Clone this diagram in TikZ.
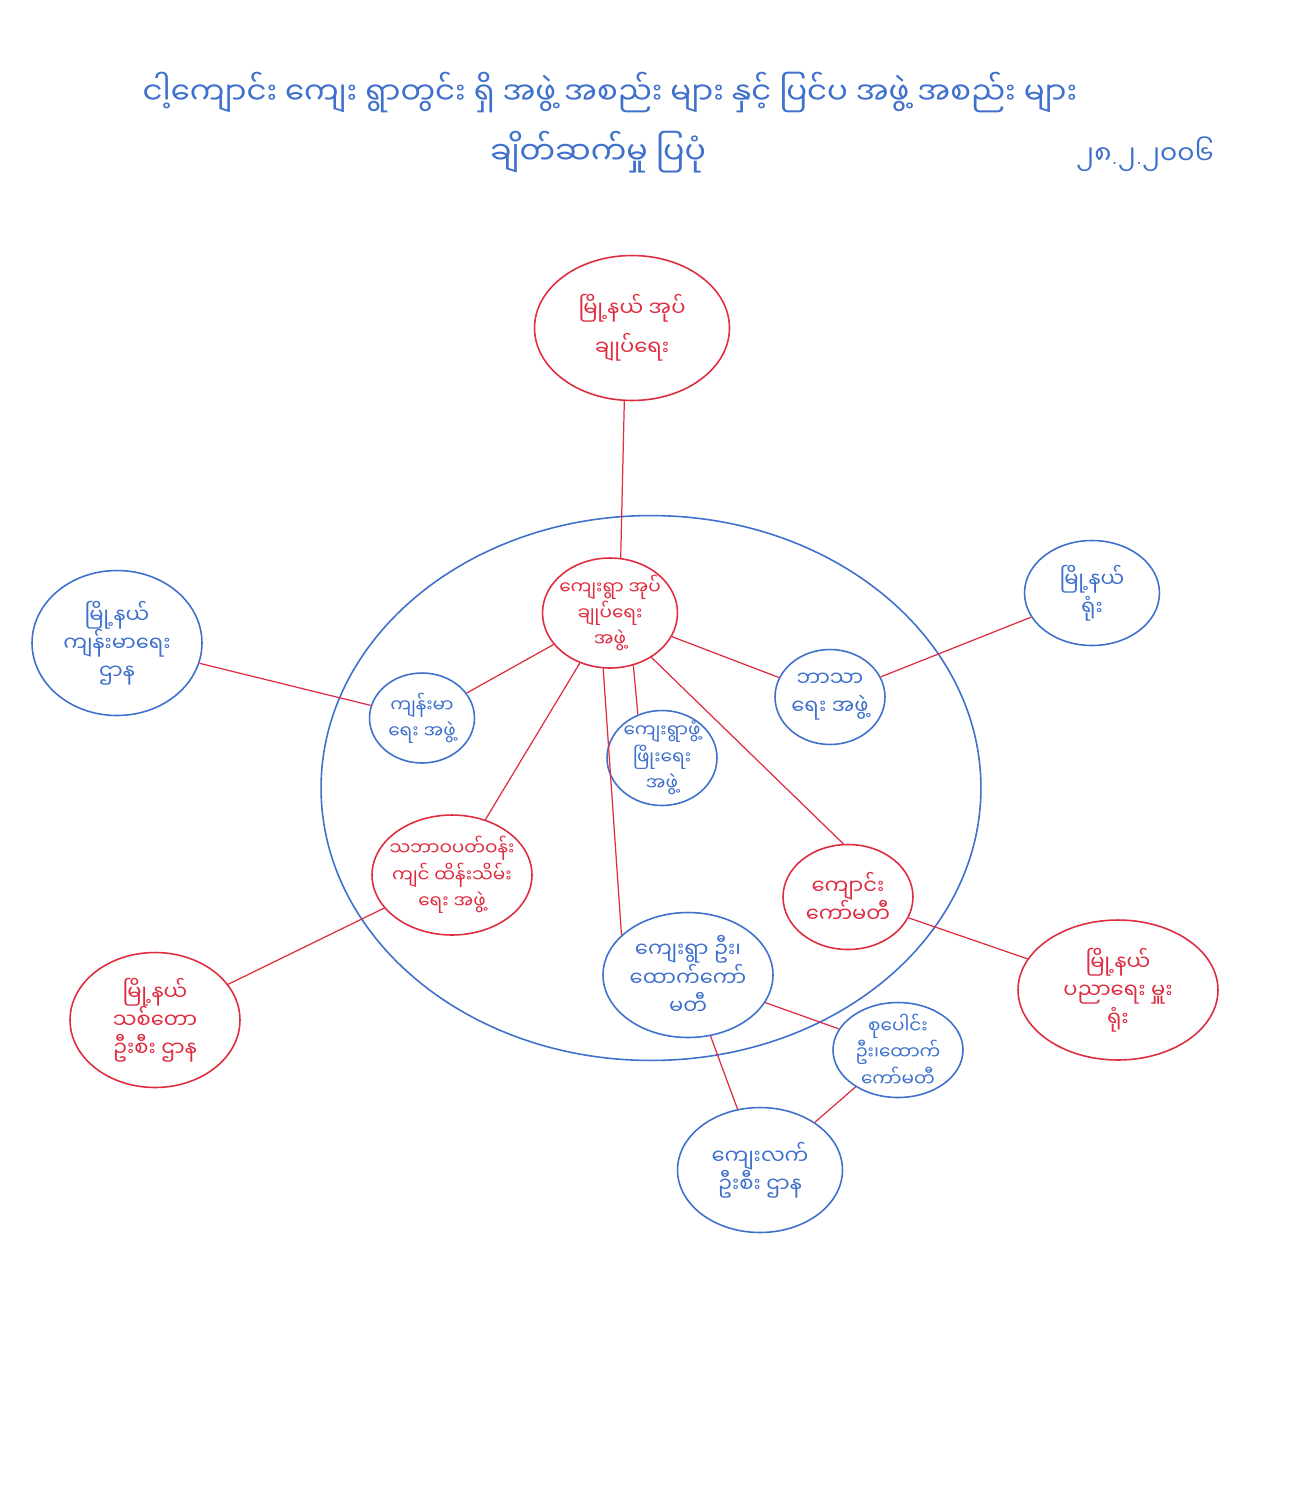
\documentclass[tikz,border=0pt]{standalone}
\usepackage{fontspec}
\newfontfamily\mm[Script=Myanmar]{Noto Sans Myanmar UI}
\usetikzlibrary{shapes.geometric}
\definecolor{pen}{RGB}{62,112,204}
\definecolor{ink}{RGB}{222,44,64}

\begin{document}
\begin{tikzpicture}[x=0.02cm, y=-0.02cm,
        bub/.style 2 args={ellipse, draw, line width=0.9pt,
                           inner xsep=-12pt, inner ysep=-6pt,
                           minimum width=#1cm, minimum height=#2cm,
                           align=center, font=\mm\fontsize{12}{16}\selectfont},
        sm/.style={font=\mm\fontsize{10.5}{15}\selectfont},
        blu/.style={draw=pen, text=pen},
        rd/.style={draw=ink, text=ink},
        head/.style={text=pen, inner sep=0pt, text height=13pt, text depth=5pt},
        link/.style={draw=ink, line width=0.7pt}]
      \useasboundingbox (0,0) rectangle (1301,1495);
      \node[head, font=\mm\fontsize{17.5}{19}\selectfont] (ttl) at (610, 97)
        {ငါ့ကျောင်း ကျေး ရွာတွင်း ရှိ အဖွဲ့ အစည်း များ နှင့် ပြင်ပ အဖွဲ့ အစည်း များ};
      \node[head, font=\mm\fontsize{18}{20}\selectfont] (sub) at (598, 157) {ချိတ်ဆက်မှု ပြပုံ};
      \node[head, font=\mm\fontsize{15}{17}\selectfont] (dt) at (1145, 157)
        {၂၈{\rmfamily .}၂{\rmfamily .}၂၀၀၆};
      \node[bub={13.2}{10.9}, blu] (vil) at (651, 788) {};
      \node[bub={3.9}{2.9}, rd]  (top) at (632, 328) {မြို့နယ် အုပ်\\[6pt]ချုပ်ရေး};
      \node[bub={2.7}{2.2}, rd, sm]  (ctr) at (610, 613) {ကျေးရွာ အုပ်\\ချုပ်ရေး\\အဖွဲ့};
      \node[bub={2.7}{2.1}, blu] (tr)  at (1092, 593) {မြို့နယ်\\ရုံး};
      \node[bub={3.4}{2.9}, blu] (lft) at (117, 643) {မြို့နယ်\\ကျန်းမာရေး\\ဌာန};
      \node[bub={2.1}{1.8}, blu, sm] (hlt) at (422, 718) {ကျန်းမာ\\ရေး အဖွဲ့};
      \node[bub={2.2}{1.9}, blu] (rel) at (830, 697) {ဘာသာ\\ရေး အဖွဲ့};
      \node[bub={2.2}{1.9}, blu, sm] (dev) at (662, 758) {ကျေးရွာဖွံ့\\ဖြိုးရေး\\အဖွဲ့};
      \node[bub={3.2}{2.4}, rd, sm]  (env) at (452, 875) {သဘာဝပတ်ဝန်း\\ကျင် ထိန်းသိမ်း\\ရေး အဖွဲ့};
      \node[bub={2.6}{2.1}, rd]  (sch) at (848, 897) {ကျောင်း\\ကော်မတီ};
      \node[bub={4.0}{2.8}, rd]  (edu) at (1118, 990) {မြို့နယ်\\ပညာရေး မှူး\\ရုံး};
      \node[bub={3.4}{2.5}, blu] (sup) at (688, 975) {ကျေးရွာ ဦး၊\\ထောက်ကော်\\မတီ};
      \node[bub={3.4}{2.7}, rd]  (for) at (155, 1020) {မြို့နယ်\\သစ်တော\\ဦးစီး ဌာန};
      \node[bub={2.6}{1.9}, blu, sm] (grp) at (898, 1050) {စုပေါင်း\\ဦး၊ထောက်\\ကော်မတီ};
      \node[bub={3.3}{2.5}, blu] (rur) at (760, 1170) {ကျေးလက်\\ဦးစီး ဌာန};
      \draw[link] (top.-96) -- (ctr.79);
      \draw[link] (ctr) -- (hlt); \draw[link] (hlt) -- (lft);
      \draw[link] (ctr) -- (rel); \draw[link] (rel) -- (tr);
      \draw[link] (ctr.-66) -- (dev.119);
      \draw[link] (ctr) -- (env); \draw[link] (env) -- (for);
      \draw[link] (ctr.-97) -- (sup.149);
      \draw[link] (ctr.-47) -- (sch.95); \draw[link] (sch) -- (edu);
      \draw[link] (sup) -- (grp); \draw[link] (grp) -- (rur);
      \draw[link] (sup) -- (rur);
    \end{tikzpicture}
\end{document}
